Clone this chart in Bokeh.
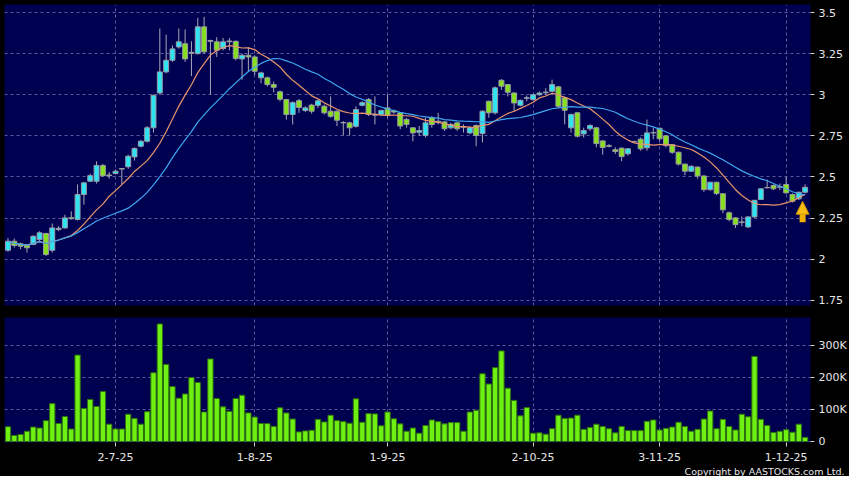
import re
import pandas as pd
from bokeh.plotting import figure
from bokeh.layouts import column
from bokeh.models import (Range1d, FixedTicker, NumeralTickFormatter, ColumnDataSource,
                          Title, Arrow, NormalHead)
from bokeh.embed import file_html
from bokeh.resources import INLINE

# ---------------- data ----------------
opens = [2.054, 2.109, 2.093, 2.085, 2.089, 2.119, 2.156, 2.054, 2.18, 2.19,
         2.252, 2.241, 2.393, 2.474, 2.474, 2.57, 2.512, 2.521, 2.551, 2.562,
         2.622, 2.687, 2.717, 2.799, 3.011, 3.139, 3.21, 3.291, 3.31, 3.258,
         3.25, 3.413, 3.33, 3.322, 3.281, 3.327, 3.325, 3.218, 3.24, 3.23,
         3.103, 3.103, 3.062, 3.018, 2.971, 2.88, 2.964, 2.904, 2.937, 2.936,
         2.93, 2.9, 2.9, 2.831, 2.829, 2.808, 2.936, 2.971, 2.876, 2.88,
         2.92, 2.902, 2.89, 2.85, 2.799, 2.772, 2.752, 2.86, 2.839, 2.835,
         2.799, 2.829, 2.806, 2.768, 2.813, 2.764, 2.96, 2.89, 3.088, 3.062,
         3.011, 2.936, 2.978, 2.971, 3.0, 3.012, 3.021, 3.048, 2.981, 2.799,
         2.89, 2.762, 2.793, 2.799, 2.719, 2.69, 2.665, 2.675, 2.641, 2.716,
         2.73, 2.677, 2.77, 2.796, 2.75, 2.697, 2.65, 2.578, 2.535, 2.56,
         2.506, 2.423, 2.468, 2.398, 2.282, 2.251, 2.226, 2.196, 2.257, 2.363,
         2.434, 2.448, 2.44, 2.454, 2.393, 2.367, 2.407]
closes = [2.109, 2.083, 2.079, 2.069, 2.139, 2.16, 2.028, 2.19, 2.188, 2.251,
          2.246, 2.393, 2.464, 2.508, 2.57, 2.508, 2.508, 2.535, 2.548, 2.626,
          2.673, 2.717, 2.799, 2.997, 3.139, 3.21, 3.279, 3.322, 3.218, 3.252,
          3.413, 3.261, 3.325, 3.271, 3.322, 3.322, 3.22, 3.24, 3.23, 3.143,
          3.133, 3.062, 3.045, 2.973, 2.88, 2.952, 2.923, 2.92, 2.9, 2.963,
          2.89, 2.869, 2.845, 2.829, 2.799, 2.91, 2.952, 2.88, 2.88, 2.904,
          2.874, 2.895, 2.81, 2.82, 2.768, 2.782, 2.829, 2.819, 2.831, 2.793,
          2.819, 2.793, 2.803, 2.799, 2.752, 2.90, 2.89, 3.042, 3.052, 3.015,
          2.95, 2.966, 2.982, 3.0, 3.01, 3.016, 3.062, 2.93, 2.906, 2.88,
          2.748, 2.782, 2.813, 2.703, 2.679, 2.686, 2.655, 2.624, 2.671, 2.714,
          2.671, 2.768, 2.768, 2.732, 2.691, 2.65, 2.578, 2.535, 2.565, 2.506,
          2.423, 2.468, 2.399, 2.30, 2.241, 2.21, 2.224, 2.257, 2.358, 2.428,
          2.436, 2.428, 2.438, 2.403, 2.352, 2.407, 2.437]
highs = [2.129, 2.125, 2.10, 2.09, 2.145, 2.17, 2.16, 2.217, 2.20, 2.27,
         2.291, 2.454, 2.47, 2.52, 2.595, 2.58, 2.53, 2.545, 2.553, 2.635,
         2.68, 2.725, 2.81, 3.00, 3.403, 3.366, 3.30, 3.403, 3.397, 3.325,
         3.468, 3.474, 3.335, 3.35, 3.345, 3.345, 3.33, 3.25, 3.29, 3.24,
         3.14, 3.11, 3.08, 3.025, 2.975, 2.96, 2.975, 2.93, 2.945, 2.97,
         2.94, 2.99, 2.905, 2.84, 2.835, 2.93, 2.96, 2.98, 2.99, 2.91,
         3.0, 2.91, 2.895, 2.86, 2.80, 2.81, 2.86, 2.87, 2.89, 2.84,
         2.83, 2.835, 2.82, 2.81, 2.82, 2.905, 2.965, 3.05, 3.095, 3.065,
         3.015, 2.97, 2.995, 3.005, 3.02, 3.04, 3.092, 3.055, 2.99, 2.885,
         2.895, 2.80, 2.82, 2.805, 2.725, 2.70, 2.68, 2.68, 2.675, 2.72,
         2.74, 2.849, 2.80, 2.80, 2.755, 2.70, 2.655, 2.58, 2.57, 2.565,
         2.51, 2.47, 2.47, 2.40, 2.29, 2.255, 2.26, 2.26, 2.36, 2.43,
         2.484, 2.455, 2.46, 2.50, 2.40, 2.41, 2.455]
lows = [2.045, 2.07, 2.06, 2.04, 2.085, 2.11, 2.02, 2.04, 2.17, 2.185,
        2.24, 2.235, 2.332, 2.47, 2.46, 2.50, 2.49, 2.515, 2.454, 2.55,
        2.60, 2.68, 2.71, 2.77, 3.0, 3.13, 3.20, 3.28, 3.20, 3.113,
        3.245, 3.25, 3.0, 3.23, 3.27, 3.27, 3.21, 3.092, 3.14, 3.12,
        3.07, 3.05, 3.015, 2.96, 2.849, 2.819, 2.89, 2.895, 2.885, 2.92,
        2.88, 2.86, 2.81, 2.752, 2.752, 2.80, 2.93, 2.87, 2.82, 2.87,
        2.86, 2.885, 2.79, 2.80, 2.717, 2.75, 2.74, 2.80, 2.82, 2.78,
        2.79, 2.78, 2.77, 2.76, 2.687, 2.71, 2.86, 2.88, 3.03, 2.99,
        2.90, 2.93, 2.96, 2.965, 2.995, 3.0, 3.015, 2.92, 2.82, 2.77,
        2.74, 2.74, 2.78, 2.68, 2.636, 2.68, 2.64, 2.596, 2.63, 2.71,
        2.66, 2.66, 2.73, 2.72, 2.68, 2.64, 2.57, 2.51, 2.53, 2.49,
        2.41, 2.415, 2.39, 2.28, 2.23, 2.19, 2.20, 2.19, 2.25, 2.36,
        2.43, 2.42, 2.42, 2.40, 2.345, 2.36, 2.40]
volumes_k = [46, 19, 22, 32, 45, 42, 65, 118, 56, 78,
             39, 269, 103, 131, 109, 156, 54, 39, 39, 85,
             72, 54, 93, 214, 366, 240, 171, 135, 148, 199,
             184, 92, 257, 134, 108, 94, 134, 144, 89, 76,
             56, 56, 47, 105, 89, 70, 30, 33, 35, 69,
             61, 82, 65, 62, 57, 133, 60, 87, 86, 49,
             92, 71, 55, 32, 42, 26, 50, 67, 62, 55,
             59, 59, 32, 92, 97, 211, 179, 230, 282, 166,
             128, 80, 106, 26, 27, 23, 40, 82, 72, 73,
             82, 38, 44, 54, 47, 40, 27, 47, 34, 34,
             34, 63, 67, 36, 41, 45, 60, 47, 32, 38,
             70, 95, 40, 69, 47, 36, 85, 77, 265, 69,
             50, 28, 32, 37, 29, 54, 13]

date_tick_idx = [17, 39, 60, 83, 103, 123]
date_tick_labels = ["2-7-25", "1-8-25", "1-9-25", "2-10-25", "3-11-25", "1-12-25"]
price_ticks = [1.75, 2.0, 2.25, 2.5, 2.75, 3.0, 3.25, 3.5]
vol_ticks = [0, 100000, 200000, 300000]
vol_tick_labels = ["0", "100K", "200K", "300K"]

signal_idx = [125.6]       # buy-signal arrow under the last bars
signal_tip = [2.352]
signal_base = [2.225]

# ---------------- styling ----------------
NAVY = "#000050"
UP = "#2ee4f2"
DOWN = "#86e01e"
GRID = "#5a5a9a"
TXT = "#e6e6e6"
FONT = "DejaVu Sans"

n = len(closes)
idx = list(range(n))
ma10 = pd.Series(closes).rolling(10, min_periods=1).mean().tolist()
ma20 = pd.Series(closes).rolling(20, min_periods=1).mean().tolist()

src = ColumnDataSource(dict(
    x=idx, o=opens, h=highs, l=lows, c=closes,
    top=[max(a, b) for a, b in zip(opens, closes)],
    bot=[min(a, b) for a, b in zip(opens, closes)],
    fill=[UP if c >= o else DOWN for o, c in zip(opens, closes)],
    vol=[v * 1000 for v in volumes_k],
    ma10=ma10, ma20=ma20,
))

W = 849
LB = 4
RB = 38
xr = Range1d(-0.55, 126.85)


def style_axis(ax, standoff=4):
    ax.axis_line_color = None
    ax.major_tick_line_color = "#cfcfcf"
    ax.major_tick_out = 4
    ax.major_tick_in = 0
    ax.minor_tick_line_color = None
    ax.major_label_text_color = TXT
    ax.major_label_text_font = FONT
    ax.major_label_text_font_size = "11px"
    ax.major_label_standoff = standoff


price = figure(width=W, height=311, x_range=xr, y_range=Range1d(1.718, 3.549),
               x_axis_location=None, y_axis_location="right",
               output_backend="svg", toolbar_location=None,
               min_border_left=LB, min_border_right=RB, min_border_top=4, min_border_bottom=6,
               background_fill_color=NAVY, border_fill_color="black", outline_line_color=None)
price.yaxis.ticker = FixedTicker(ticks=price_ticks)
price.yaxis.formatter = NumeralTickFormatter(format="0.[00]")
style_axis(price.yaxis[0])
price.xgrid.ticker = FixedTicker(ticks=date_tick_idx)
for g in (price.xgrid, price.ygrid):
    g.grid_line_color = GRID
    g.grid_line_dash = "3 3"
    g.grid_line_width = 1

price.segment(x0="x", y0="h", x1="x", y1="l", source=src, line_color="#a8a8b8", line_width=1)
price.vbar(x="x", width=0.78, top="top", bottom="bot", source=src,
           fill_color="fill", line_color="#9a9aa6", line_width=1)
price.line("x", "ma10", source=src, line_color="#e8956a", line_width=1.2)
price.line("x", "ma20", source=src, line_color="#3ea6ee", line_width=1.2)

price.add_layout(Arrow(end=NormalHead(size=13, fill_color="#f7bd12", line_color="#c98a00", line_width=1),
                       x_start=signal_idx[0], y_start=signal_base[0],
                       x_end=signal_idx[0], y_end=signal_tip[0],
                       line_color="#f0b000", line_width=6, line_cap="butt"))

vol = figure(width=W, height=165, x_range=xr, y_range=Range1d(-3000, 386000),
             y_axis_location="right",
             output_backend="svg", toolbar_location=None,
             min_border_left=LB, min_border_right=RB, min_border_top=6, min_border_bottom=0,
             background_fill_color=NAVY, border_fill_color="black", outline_line_color=None)
vol.yaxis.ticker = FixedTicker(ticks=vol_ticks)
vol.yaxis.major_label_overrides = dict(zip(vol_ticks, vol_tick_labels))
vol.xaxis.ticker = FixedTicker(ticks=date_tick_idx)
vol.xaxis.major_label_overrides = dict(zip(date_tick_idx, date_tick_labels))
style_axis(vol.yaxis[0])
style_axis(vol.xaxis[0], standoff=6)
for g in (vol.xgrid, vol.ygrid):
    g.grid_line_color = GRID
    g.grid_line_dash = "3 3"
    g.grid_line_width = 1

vol.vbar(x="x", width=0.84, top="vol", bottom=0, source=src,
         fill_color="#6ef012", line_color="#2e7010", line_width=1)

vol.add_layout(Title(text="Copyright by AASTOCKS.com Ltd.", align="right", offset=-34,
                     standoff=0, text_font=FONT, text_font_size="9.5px",
                     text_font_style="normal", text_color=TXT), "below")

layout = column(price, vol, spacing=0)
layout.styles = {"background-color": "#000000"}

html = file_html(layout, INLINE, title="chart")
html = re.sub(r"<body([^>]*)>", r'<body\1 style="background-color:#000000;">', html, count=1)
open("out.html", "w").write(html)
